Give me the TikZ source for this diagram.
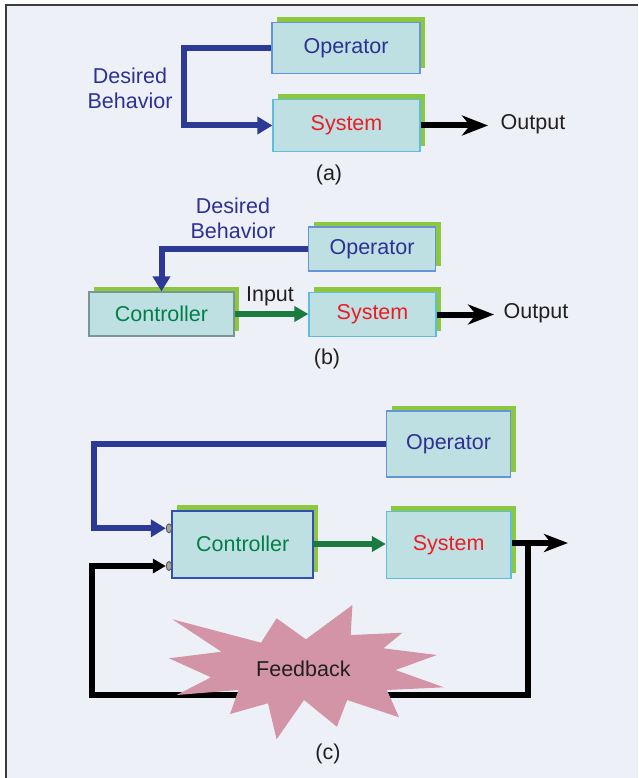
\documentclass[tikz,border=0pt]{standalone}
\usepackage{fontspec}
\setmainfont{Liberation Sans}
\usetikzlibrary{arrows.meta,shadows,shapes.geometric}

\definecolor{bg}{RGB}{237,241,247}
\definecolor{framegray}{RGB}{60,60,60}
\definecolor{boxfill}{RGB}{190,224,226}
\definecolor{shgreen}{RGB}{141,198,63}
\definecolor{opblue}{RGB}{46,49,146}
\definecolor{sysred}{RGB}{237,28,36}
\definecolor{ctrlgreen}{RGB}{0,128,72}
\definecolor{lineblue}{RGB}{44,58,150}
\definecolor{linegreen}{RGB}{26,122,64}
\definecolor{burst}{RGB}{212,148,168}
\definecolor{edgeblue}{RGB}{100,150,215}
\definecolor{edgecyan}{RGB}{90,190,220}
\definecolor{edgegray}{RGB}{120,150,150}
\definecolor{edgedark}{RGB}{50,80,180}
\definecolor{ink}{RGB}{35,31,32}

\tikzset{
  txt/.style={font=\fontsize{21.5}{25}\selectfont, inner sep=0pt, align=center},
  block/.style={rectangle, txt, fill=boxfill, draw=edgeblue, line width=1.2pt,
    drop shadow={shadow xshift=5pt, shadow yshift=5.5pt, fill=shgreen, opacity=1}},
  opbox/.style={block, text=opblue},
  sysbox/.style={block, draw=edgecyan, text=sysred},
  ctrlbox/.style={block, text=ctrlgreen},
  bluearr/.style={draw=lineblue, line width=6pt, line join=miter,
    -{Triangle[length=15pt,width=17pt]}},
  greenarr/.style={draw=linegreen, line width=5.5pt,
    -{Triangle[length=14pt,width=15pt]}},
  outarr/.style={draw=black, line width=6pt,
    -{Stealth[length=26pt,width=20pt,inset=8pt]}},
  blackline/.style={draw=black, line width=6pt, line join=miter},
  port/.style={ellipse, draw=black!65, fill=black!35, line width=0.9pt,
    minimum width=5.5pt, minimum height=9pt, inner sep=0pt},
}

\begin{document}
\begin{tikzpicture}[x=1pt, y=-1pt]
  % page and frame
  \useasboundingbox (0,0) rectangle (638,778);
  \fill[white] (0,0) rectangle (638,778);
  \fill[bg] (5,4) rectangle (638,778);
  \draw[framegray, line width=1.6pt] (5.8,778) -- (5.8,4.8) -- (638,4.8);

  % ---------- (a) operator drives the system directly ----------
  \node[opbox, minimum width=148pt, minimum height=51pt] (opA) at (346,48) {Operator};
  \node[sysbox, minimum width=147pt, minimum height=52pt] (sysA) at (346.5,125.5) {System};
  \draw[bluearr] (opA.west) -- ++(-87,0) |- (sysA.west);
  \node[txt, text=opblue] (desA) at (130,88.5) {Desired\\Behavior};
  \coordinate (outA) at (488,125.5);
  \draw[outarr] (sysA.east) -- (outA);
  \node[txt, text=ink] (outAtxt) at (533,124) {Output};
  \node[txt, text=ink] (capA) at (329,175) {(a)};

  % ---------- (b) open-loop controller ----------
  \node[opbox, minimum width=127pt, minimum height=44pt] (opB) at (372,249) {Operator};
  \node[ctrlbox, draw=edgegray, minimum width=145pt, minimum height=44pt] (ctrlB) at (161.5,314) {Controller};
  \node[sysbox, minimum width=127pt, minimum height=44pt] (sysB) at (372.5,314.5) {System};
  \draw[bluearr] (opB.west) -| (ctrlB.north);
  \node[txt, text=opblue] (desB) at (233,218.5) {Desired\\Behavior};
  \draw[greenarr] (ctrlB.east) -- (ctrlB.east -| sysB.west);
  \node[txt, text=ink] (inB) at (270,296.5) {Input};
  \coordinate (outB) at (494,314.5);
  \draw[outarr] (sysB.east) -- (outB);
  \node[txt, text=ink] (outBtxt) at (536,313) {Output};
  \node[txt, text=ink] (capB) at (327,359) {(b)};

  % ---------- (c) closed loop with feedback ----------
  \node[opbox, minimum width=124pt, minimum height=66pt] (opC) at (448.5,444) {Operator};
  \node[ctrlbox, draw=edgedark, line width=2pt, minimum width=141pt, minimum height=67pt] (ctrlC) at (242.7,544) {Controller};
  \node[sysbox, minimum width=124.5pt, minimum height=66.5pt] (sysC) at (448.7,545) {System};
  \node[port] (p1) at (169,528.3) {};
  \node[port] (p2) at (169,566) {};
  \draw[bluearr] (opC.west) -- ++(-292,0) |- (p1.west);
  \draw[greenarr] (ctrlC.east) -- (ctrlC.east -| sysC.west);
  \coordinate (outC) at (568,543);
  \draw[outarr, -{Stealth[length=24pt,width=18pt,inset=7pt]}] (sysC.east |- outC) -- (outC);
  \coordinate (tap) at (527.7,543);
  \coordinate (fbR) at (527.7,695);
  \coordinate (fbL) at (92,695);
  \draw[blackline, -{Triangle[length=13pt,width=14pt]}] (tap) -- (fbR) -- (fbL) |- (p2.west);

  % feedback starburst
  \fill[burst] (172.4,619.3) -- (261,642.7) -- (276.6,618.3) -- (305.9,639.3)
    -- (352.4,605) -- (350.7,635) -- (402.4,632.7) -- (383.4,648.3)
    -- (436.9,655) -- (395.5,670) -- (443.8,687.3) -- (386.9,690)
    -- (399,717.3) -- (347.2,700) -- (336.9,726.7) -- (304,700)
    -- (276.6,739.3) -- (268,703.3) -- (230,714) -- (238.6,690)
    -- (176.6,695) -- (211,677.3) -- (169,658.3) -- (221.4,651.7) -- cycle;
  \node[txt, text=ink] (fb) at (303.4,669.3) {Feedback};
  \node[txt, text=ink] (capC) at (328,754) {(c)};
\end{tikzpicture}
\end{document}
